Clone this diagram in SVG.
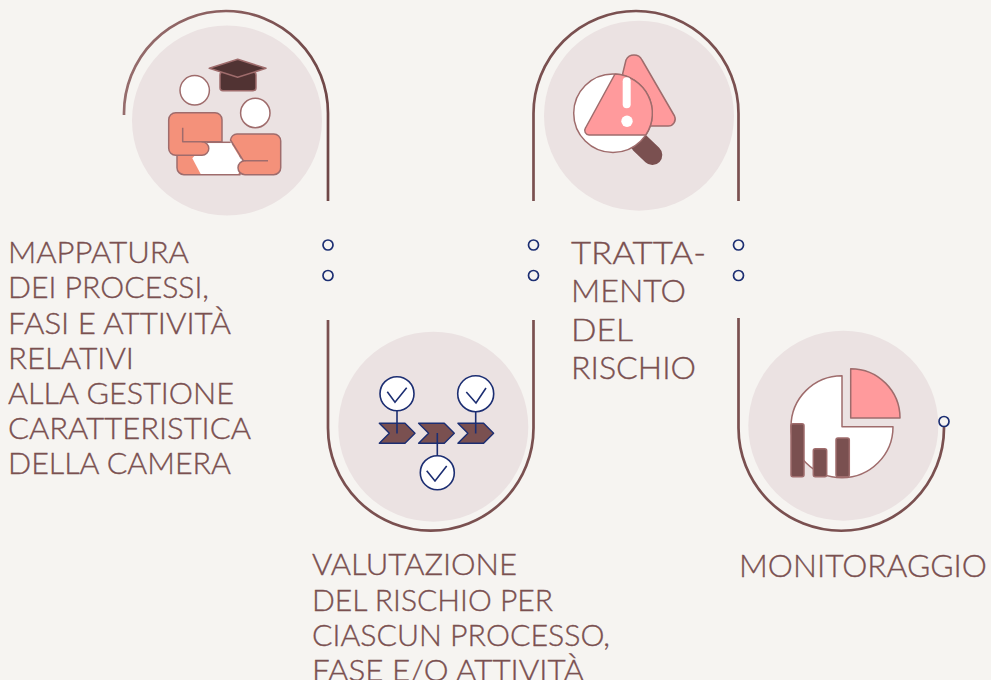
<svg xmlns="http://www.w3.org/2000/svg" width="991" height="680" viewBox="0 0 991 680">
<defs>
<linearGradient id="arc1" gradientUnits="userSpaceOnUse" x1="124" y1="0" x2="328" y2="0">
<stop offset="0" stop-color="#956c6c"/>
<stop offset="0.5" stop-color="#8a5e5e"/>
<stop offset="1" stop-color="#6f4747"/>
</linearGradient>
</defs>
<style>
.bg{fill:#ebe2e2}
.ln{fill:none;stroke:#7a5050;stroke-width:2.7}
.dot{fill:#f6f4f1;stroke:#1c2e72;stroke-width:1.7}
.o{stroke:#9f6c6c;stroke-width:1.5;stroke-linejoin:round}
.w{fill:#fff}
.s{fill:#f4917a}
.p{fill:#ff9a9c}
.b{fill:#7a5050}
.n{stroke:#1c2e72;stroke-width:1.6;fill:none}
.cw{fill:#fff;stroke:#1c2e72;stroke-width:1.6}
.ch{fill:#7a5050;stroke:#1c2e72;stroke-width:1.4;stroke-linejoin:round}
text{font-family:"Lato","Liberation Sans",sans-serif;font-weight:300;fill:#7a5050;stroke:#7a5050;stroke-width:0.35}
.t1{font-size:29px}
.t2{font-size:31px}
</style>
<rect width="991" height="680" fill="#f6f4f1"/>
<g id="connectors">
<path class="ln" style="stroke:url(#arc1)" d="M124,115 V113.200 A102,102.200 0 0 1 328,113.200 V201"/>
<path class="ln" d="M328,320 V428 A102.700,102.700 0 0 0 533.500,428 V320"/>
<path class="ln" d="M533.500,201 V113.500 A102.500,102.500 0 0 1 738.500,113.500 V201"/>
<path class="ln" d="M738.500,318 V428 A102.700,102.700 0 0 0 944,428 V423"/>
<circle class="dot" cx="328" cy="245" r="5"/>
<circle class="dot" cx="328" cy="275.500" r="5"/>
<circle class="dot" cx="533.500" cy="245" r="5"/>
<circle class="dot" cx="533.500" cy="275.500" r="5"/>
<circle class="dot" cx="738.500" cy="245" r="5"/>
<circle class="dot" cx="738.500" cy="275.500" r="5"/>
<circle class="dot" cx="944" cy="421.500" r="5"/>
</g>
<g id="node-mappatura">
<circle class="bg" cx="227" cy="120.500" r="95"/>
<rect x="220" y="72" width="36" height="18.700" rx="3" fill="#513333" class="o"/>
<path d="M209.300,68.300 L237.700,59.300 L266,68.300 L237.700,77.300 Z" fill="#513333" class="o"/>
<circle class="w o" cx="194.700" cy="90.300" r="14.700"/>
<circle class="w o" cx="255.300" cy="113" r="14.700"/>
<path class="s o" d="M177,145 H240 V174.700 H184 A7,7 0 0 1 177,167.700 Z"/>
<path class="w" d="M206.700,142.300 H230.700 L243.300,163.300 L238.300,174 H200.700 L192.300,158.300 Z"/>
<path class="o" fill="none" d="M206.700,142.300 H230.700"/>
<path class="s o" d="M175.700,112.700 H215 A7,7 0 0 1 222,119.700 V141.700 H202 A6.800,6.800 0 0 1 202,155.300 H175.700 A7,7 0 0 1 168.700,148.300 V119.700 A7,7 0 0 1 175.700,112.700 Z"/>
<path class="s o" d="M237,134 H273.700 A7,7 0 0 1 280.700,141 V167.700 A7,7 0 0 1 273.700,174.700 H245 A7,7 0 0 1 245,160.700 H243.300 L230.500,140 A7,7 0 0 1 237,134 Z"/>
<path class="o" fill="none" d="M182.700,127.700 V141.700 H203 M245,160.700 H268"/>
</g>
<g id="node-valutazione">
<circle class="bg" cx="433.300" cy="426.700" r="95"/>
<path class="ch" d="M379.300,423.300 H405 L415,433.300 L405,443.300 H379.300 L389.300,433.300 Z"/>
<path class="ch" d="M418.600,423.300 H444.300 L454.300,433.300 L444.300,443.300 H418.600 L428.600,433.300 Z"/>
<path class="ch" d="M457.900,423.300 H483.600 L493.600,433.300 L483.600,443.300 H457.900 L467.900,433.300 Z"/>
<path class="n" d="M397,410 V433.500 M475.700,411 V433.500 M437.300,433 V456"/>
<circle class="cw" cx="397" cy="393.700" r="17"/>
<circle class="cw" cx="475.700" cy="393.700" r="18"/>
<circle class="cw" cx="437.300" cy="472.700" r="17"/>
<path class="n" d="M387.300,391.700 L395,402.300 L406.700,387.700 M466.300,392 L476,403 L486,388 M426.700,470.700 L435,481 L446.700,466"/>
</g>
<g id="node-trattamento">
<circle class="bg" cx="639" cy="115.700" r="95"/>
<path class="b" d="M640,143.300 L652.300,155" stroke="#7a5050" stroke-width="20" stroke-linecap="round"/>
<path class="p o" d="M626,60 A9,9 0 0 1 642,60 L674.500,116 A7,7 0 0 1 668,126 H610 Z"/>
<circle class="w o" cx="613" cy="113.300" r="39.300"/>
<path class="p o" d="M615,74 A39.300,39.300 0 0 1 645.800,135 H589 A4.500,4.500 0 0 1 585.500,128 Z"/>
<rect class="w" x="622.700" y="77.300" width="8" height="31" rx="4"/>
<circle class="w" cx="627" cy="121.300" r="5.700"/>
</g>
<g id="node-monitoraggio">
<circle class="bg" cx="843.300" cy="425.700" r="95"/>
<path class="w o" d="M842,426.700 V375.700 A51,51 0 1 0 893,426.700 Z"/>
<path class="p o" d="M850.700,368.700 A49.300,49.300 0 0 1 900,418 H850.700 Z"/>
<rect class="b o" x="791" y="423.700" width="13" height="53" rx="2"/>
<rect class="b o" x="813.300" y="448.700" width="13.400" height="28" rx="2"/>
<rect class="b o" x="836" y="438" width="13.300" height="38.700" rx="2"/>
</g>
<g id="labels">
<text class="t1" x="8" y="263" textLength="181" lengthAdjust="spacingAndGlyphs">MAPPATURA</text>
<text class="t1" x="8" y="298" textLength="201" lengthAdjust="spacingAndGlyphs">DEI PROCESSI,</text>
<text class="t1" x="8" y="334" textLength="223" lengthAdjust="spacingAndGlyphs">FASI E ATTIVITÀ</text>
<text class="t1" x="8" y="369" textLength="126" lengthAdjust="spacingAndGlyphs">RELATIVI</text>
<text class="t1" x="8" y="404" textLength="226" lengthAdjust="spacingAndGlyphs">ALLA GESTIONE</text>
<text class="t1" x="8" y="439" textLength="243" lengthAdjust="spacingAndGlyphs">CARATTERISTICA</text>
<text class="t1" x="8" y="474" textLength="223" lengthAdjust="spacingAndGlyphs">DELLA CAMERA</text>
<text class="t1" x="312" y="575" textLength="205" lengthAdjust="spacingAndGlyphs">VALUTAZIONE</text>
<text class="t1" x="312" y="611" textLength="241" lengthAdjust="spacingAndGlyphs">DEL RISCHIO PER</text>
<text class="t1" x="312" y="646" textLength="298" lengthAdjust="spacingAndGlyphs">CIASCUN PROCESSO,</text>
<text class="t1" x="312" y="681" textLength="272" lengthAdjust="spacingAndGlyphs">FASE E/O ATTIVITÀ</text>
<text class="t2" x="571" y="263.500" textLength="135" lengthAdjust="spacingAndGlyphs">TRATTA-</text>
<text class="t2" x="571" y="302" textLength="115" lengthAdjust="spacingAndGlyphs">MENTO</text>
<text class="t2" x="571" y="341" textLength="62" lengthAdjust="spacingAndGlyphs">DEL</text>
<text class="t2" x="571" y="379" textLength="125" lengthAdjust="spacingAndGlyphs">RISCHIO</text>
<text class="t2" x="739" y="577" textLength="248" lengthAdjust="spacingAndGlyphs">MONITORAGGIO</text>
</g>
</svg>
